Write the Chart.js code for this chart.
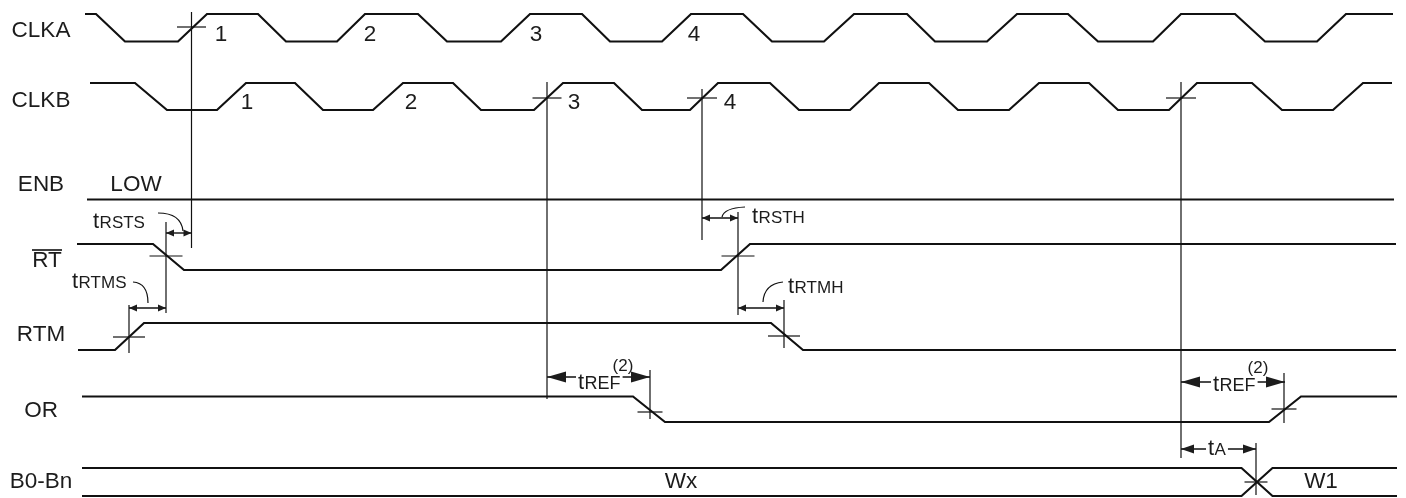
<!DOCTYPE html>
<html>
<head>
<meta charset="utf-8">
<title>Retransmit timing</title>
<script src="https://cdn.jsdelivr.net/npm/chart.js@4.4.1/dist/chart.umd.min.js"></script>
<style>
  html, body { margin: 0; padding: 0; background: #fff; }
  #wrap { width: 1406px; height: 498px; }
</style>
</head>
<body>
<div id="wrap"><canvas id="timing" width="1406" height="498"></canvas></div>
<script>
// ---- data (time on x, logic level 1 = high / 0 = low) ----
const signals = ['CLKA', 'CLKB', 'ENB', 'RT', 'RTM', 'OR', 'B0-Bn'];

const clkaWave = [[85,1],[96,1],[125,0],[178,0],[207,1],[258,1],[286,0],[337,0],[365,1],[418,1],[447,0],
  [501,0],[530,1],[582,1],[610,0],[662,0],[691,1],[743,1],[772,0],[824,0],[854,1],[907,1],[935,0],
  [987,0],[1017,1],[1068,1],[1098,0],[1153,0],[1181,1],[1235,1],[1265,0],[1317,0],[1346,1],[1393,1]];
const clkbWave = [[90,1],[135,1],[167,0],[217,0],[246,1],[295,1],[323,0],[373,0],[403,1],[453,1],[481,0],
  [534,0],[563,1],[614,1],[642,0],[690,0],[718,1],[770,1],[799,0],[850,0],[879,1],[929,1],[958,0],
  [1009,0],[1039,1],[1089,1],[1118,0],[1169,0],[1197,1],[1252,1],[1282,0],[1333,0],[1363,1],[1392,1]];
const enbWave = [[87,0],[1394,0]];
const rtWave  = [[77,1],[153,1],[184,0],[721,0],[750,1],[1396,1]];
const rtmWave = [[78,0],[115,0],[144,1],[771,1],[803,0],[1396,0]];
const orWave  = [[82,1],[633,1],[665,0],[1269,0],[1301,1],[1397,1]];

// bus: start, crossing, end times and the words on it
const busTimes = [82, 1257, 1397];
const busWords = ['Wx', 'W1'];
const busWordAt = [681, 1321];

// numbered clock edges (label times)
const clkaNums = [221, 370, 536, 694];
const clkbNums = [247, 411, 574, 730];

// timing parameters: name, from time, to time
const paramNames = ['RSTS', 'RSTH', 'RTMS', 'RTMH', 'REF', 'REF', 'A'];
const paramFrom  = [166, 702, 129, 738, 547, 1181, 1181];
const paramTo    = [191.5, 738, 166, 784, 650, 1285, 1256];

// reference lines: time of each marked edge
const refTimes = [191.5, 547, 702, 1181, 166, 738, 129, 784, 650, 1284, 1256];

// ---- layout ----
const rowHi = [14, 83, 199.5, 244, 323, 396.5, 468];
const rowLo = [41.5, 110, 199.5, 270, 350, 422, 496];
const labelY = [31, 101, 185, 261, 335, 411, 482];
const refSpan = [[12,248],[82,399],[89,240],[82,458],[222,313],[212,315],[305,353],[300,348],[370,419],[373,423],[443,495]];
const crossAt = [[27,14.5],[98,14.5],[98,15],[98,15],[256,16.5],[256,16.5],[337,16],[336,16],[412,12.5],[409,12.5],[482,11.5]];
const INK = '#111';
const FONT = '"Liberation Sans", Arial, sans-serif';

function waveData(wave, row) {
  return wave.map(p => ({ x: p[0], y: p[1] ? rowHi[row] : rowLo[row] }));
}
function seg(data, width) {
  return { data: data, showLine: true, borderColor: INK, borderWidth: width,
           pointRadius: 0, fill: false, tension: 0, clip: false };
}

const datasets = [];
[clkaWave, clkbWave, enbWave, rtWave, rtmWave, orWave].forEach((w, i) => {
  datasets.push(seg(waveData(w, i), 2.2));
});
// bus lines with crossing
const bTop = rowHi[6], bBot = rowLo[6], half = 15.5;
datasets.push(seg([{x: busTimes[0], y: bTop}, {x: busTimes[1] - half, y: bTop}, {x: busTimes[1] + half, y: bBot}, {x: busTimes[2], y: bBot}], 2.2));
datasets.push(seg([{x: busTimes[0], y: bBot}, {x: busTimes[1] - half, y: bBot}, {x: busTimes[1] + half, y: bTop}, {x: busTimes[2], y: bTop}], 2.2));
// reference lines and crosshairs
refTimes.forEach((t, i) => {
  datasets.push(seg([{x: t, y: refSpan[i][0]}, {x: t, y: refSpan[i][1]}], 1.2));
  const c = crossAt[i];
  datasets.push(seg([{x: t - c[1], y: c[0]}, {x: t + c[1], y: c[0]}], 1.2));
});

// ---- annotations: text, arrows, leaders ----
function tLabel(ctx, x, base, sub, subSize) {
  ctx.textAlign = 'left';
  ctx.textBaseline = 'alphabetic';
  ctx.font = '22px ' + FONT;
  ctx.fillText('t', x, base);
  const w = ctx.measureText('t').width;
  ctx.font = (subSize || 17) + 'px ' + FONT;
  ctx.fillText(sub, x + w + 0.5, base);
  return w + 0.5 + ctx.measureText(sub).width;
}
function head(ctx, tipX, y, dir, len, hw) {
  ctx.beginPath();
  ctx.moveTo(tipX, y);
  ctx.lineTo(tipX + dir * len, y - hw);
  ctx.lineTo(tipX + dir * len, y + hw);
  ctx.closePath();
  ctx.fill();
}
function arrow(ctx, x1, x2, y, len, hw, gap) {
  ctx.lineWidth = 1.4;
  ctx.beginPath();
  if (gap) {
    ctx.moveTo(x1, y); ctx.lineTo(gap[0], y);
    ctx.moveTo(gap[1], y); ctx.lineTo(x2, y);
  } else {
    ctx.moveTo(x1, y); ctx.lineTo(x2, y);
  }
  ctx.stroke();
  head(ctx, x1, y, 1, len, hw);
  head(ctx, x2, y, -1, len, hw);
}
function leader(ctx, a, c, b) {
  ctx.lineWidth = 1.2;
  ctx.beginPath();
  ctx.moveTo(a[0], a[1]);
  ctx.quadraticCurveTo(c[0], c[1], b[0], b[1]);
  ctx.stroke();
}

const diagramPlugin = {
  id: 'diagram',
  afterDatasetsDraw(chart) {
    const { ctx, scales: { x, y } } = chart;
    const px = v => x.getPixelForValue(v);
    const py = v => y.getPixelForValue(v);
    ctx.save();
    ctx.fillStyle = '#1c1c1c';
    ctx.strokeStyle = INK;

    // row names
    ctx.font = '22.5px ' + FONT;
    ctx.textAlign = 'center';
    ctx.textBaseline = 'middle';
    signals.forEach((s, i) => {
      const cx = s === 'RT' ? 47 : 41;
      ctx.fillText(s, cx, py(labelY[i]));
    });
    // overline on RT
    ctx.lineWidth = 1.6;
    ctx.beginPath();
    ctx.moveTo(32, py(250)); ctx.lineTo(62, py(250));
    ctx.stroke();
    ctx.fillText('LOW', px(136), py(185));

    // clock edge numbers
    clkaNums.forEach((t, i) => ctx.fillText(String(i + 1), px(t), py(35)));
    clkbNums.forEach((t, i) => ctx.fillText(String(i + 1), px(t), py(103)));

    // bus words
    busWords.forEach((w, i) => ctx.fillText(w, px(busWordAt[i]), py(482)));

    // small timing arrows with labels and leaders
    arrow(ctx, px(paramFrom[0]), px(paramTo[0]), py(233), 8, 3.5);
    tLabel(ctx, px(93), py(228), paramNames[0]);
    leader(ctx, [158, 213], [181, 213], [183, 231]);

    arrow(ctx, px(paramFrom[1]), px(paramTo[1]), py(218), 8, 3.5);
    tLabel(ctx, px(752), py(223), paramNames[1]);
    leader(ctx, [722, 217], [724, 208], [745, 207]);

    arrow(ctx, px(paramFrom[2]), px(paramTo[2]), py(308), 8, 3.5);
    tLabel(ctx, px(72), py(288), paramNames[2]);
    leader(ctx, [133, 282], [148, 283], [148, 303]);

    arrow(ctx, px(paramFrom[3]), px(paramTo[3]), py(308), 8, 3.5);
    tLabel(ctx, px(788), py(293), paramNames[3]);
    leader(ctx, [763, 302], [764, 284], [783, 282]);

    // tREF arrows with "(2)" note
    [[4, 578, 377, 389, 371], [5, 1213, 382, 391, 373]].forEach(r => {
      const k = r[0];
      const w = tLabel(ctx, px(r[1]), py(r[3]), paramNames[k], 18);
      arrow(ctx, px(paramFrom[k]), px(paramTo[k]), py(r[2]), 19, 5.5, [px(r[1]) - 2, px(r[1]) + w + 2]);
      ctx.font = '17px ' + FONT;
      ctx.textAlign = 'left';
      ctx.textBaseline = 'alphabetic';
      ctx.fillText('(2)', px(r[1]) + w - 8, py(r[4]));
    });

    // tA
    const wa = tLabel(ctx, px(1208), py(455), paramNames[6], 17);
    arrow(ctx, px(paramFrom[6]), px(paramTo[6]), py(449), 13, 4.5, [px(1208) - 2, px(1208) + wa + 2]);

    ctx.restore();
  }
};

new Chart(document.getElementById('timing').getContext('2d'), {
  type: 'scatter',
  data: { datasets: datasets },
  options: {
    responsive: false,
    animation: false,
    devicePixelRatio: 1,
    events: [],
    layout: { padding: 0 },
    scales: {
      x: { type: 'linear', min: 0, max: 1406, display: false },
      y: { type: 'linear', min: 0, max: 498, reverse: true, display: false }
    },
    plugins: { legend: { display: false }, tooltip: { enabled: false } }
  },
  plugins: [diagramPlugin]
});
</script>
</body>
</html>
